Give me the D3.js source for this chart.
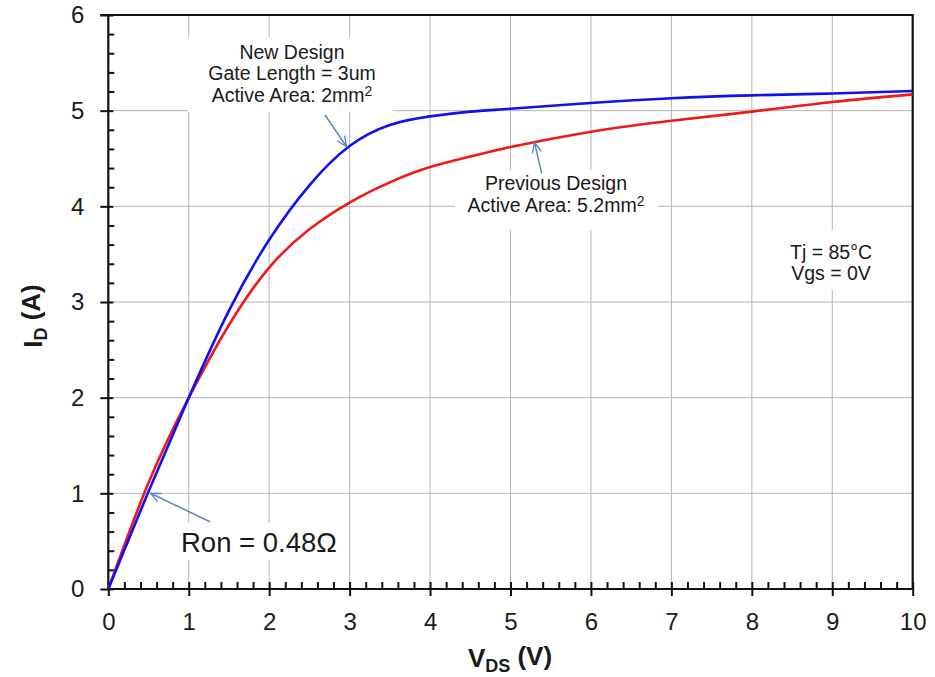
<!DOCTYPE html>
<html>
<head>
<meta charset="utf-8">
<script src="https://cdn.jsdelivr.net/npm/d3@7"></script>
<style>
  html, body { margin: 0; padding: 0; background: #fff; }
  svg { display: block; font-family: "Liberation Sans", Arial, sans-serif; }
</style>
</head>
<body>
<svg id="chart" width="935" height="677"></svg>
<script>
// ---- data ----
const vds = [0, 0.5, 1, 1.5, 2, 2.5, 3, 3.5, 4, 4.5, 5, 6, 7, 8, 9, 10];
const newDesign = [0, 1.02, 2.0, 2.91, 3.65, 4.22, 4.63, 4.85, 4.94, 4.99, 5.02, 5.08, 5.13, 5.16, 5.18, 5.205];
const prevDesign = [0, 1.11, 2.0, 2.76, 3.36, 3.76, 4.04, 4.25, 4.41, 4.52, 4.62, 4.78, 4.895, 4.99, 5.09, 5.17];
const xTicks = [0, 1, 2, 3, 4, 5, 6, 7, 8, 9, 10];
const yTicks = [0, 1, 2, 3, 4, 5, 6];
const xMinor = d3.range(0, 50).map(i => i * 0.2).filter(v => Math.abs(v - Math.round(v)) > 1e-6);
const yMinor = d3.range(0, 30).map(i => i * 0.2).filter(v => Math.abs(v - Math.round(v)) > 1e-6);

const svg = d3.select("#chart");
const x = d3.scaleLinear().domain([0, 10]).range([108.3, 912.7]);
const y = d3.scaleLinear().domain([0, 6]).range([589, 15]);

// grid
const grid = svg.append("g").attr("stroke", "#b4b4b4").attr("stroke-width", 1);
grid.selectAll(".gx").data(xTicks.slice(1, -1)).join("line")
  .attr("x1", d => x(d)).attr("x2", d => x(d)).attr("y1", y(0)).attr("y2", y(6));
grid.selectAll(".gy").data(yTicks.slice(1, -1)).join("line")
  .attr("x1", x(0)).attr("x2", x(10)).attr("y1", d => y(d)).attr("y2", d => y(d));

// white label boxes (hide grid)
const boxes = [
  [188, 37, 205, 75],
  [455, 170, 203, 60],
  [785, 230, 92, 60],
  [176, 523, 172, 37]
];
svg.append("g").selectAll("rect").data(boxes).join("rect")
  .attr("x", d => d[0]).attr("y", d => d[1]).attr("width", d => d[2]).attr("height", d => d[3])
  .attr("fill", "#fff");

// axes
const axisColor = "#111";
const xAxis = svg.append("g").attr("transform", `translate(0,${y(0)})`)
  .call(d3.axisBottom(x).tickValues(xTicks).tickSize(7).tickPadding(17).tickFormat(d3.format("d")));
xAxis.selectAll(".tick line").attr("y1", -7);
const xMin = svg.append("g").attr("transform", `translate(0,${y(0)})`)
  .call(d3.axisTop(x).tickValues(xMinor).tickSize(7).tickFormat(""));
xMin.select(".domain").remove();

const yAxis = svg.append("g").attr("transform", `translate(${x(0)},0)`)
  .call(d3.axisLeft(y).tickValues(yTicks).tickSize(8).tickPadding(16).tickFormat(d3.format("d")));
yAxis.selectAll(".tick line").attr("x1", 5);
const yMin = svg.append("g").attr("transform", `translate(${x(0)},0)`)
  .call(d3.axisRight(y).tickValues(yMinor).tickSize(6).tickFormat(""));
yMin.select(".domain").remove();

[xAxis, xMin, yAxis, yMin].forEach(g => {
  g.selectAll("line").attr("stroke", axisColor).attr("stroke-width", 2);
  g.selectAll(".domain").attr("stroke", axisColor).attr("stroke-width", 2.2);
  g.selectAll("text").attr("font-size", 24).attr("fill", "#1a1a1a")
    .attr("font-family", "'Liberation Sans', Arial, sans-serif");
});
xAxis.selectAll(".domain").attr("d", `M${x(0)},0H${x(10)}`);
yAxis.selectAll(".domain").attr("d", `M0,${y(0)}V${y(6)}`);

// frame top and right
svg.append("line").attr("x1", x(0) - 8).attr("x2", x(10) + 1).attr("y1", y(6)).attr("y2", y(6))
  .attr("stroke", axisColor).attr("stroke-width", 2.2);
svg.append("line").attr("x1", x(10)).attr("x2", x(10)).attr("y1", y(6)).attr("y2", y(0))
  .attr("stroke", axisColor).attr("stroke-width", 2.2);

// curves
const line = d3.line().x(d => x(d[0])).y(d => y(d[1])).curve(d3.curveNatural);
svg.append("path").datum(vds.map((v, i) => [v, prevDesign[i]]))
  .attr("d", line).attr("fill", "none").attr("stroke", "#f01818").attr("stroke-width", 2.6);
svg.append("path").datum(vds.map((v, i) => [v, newDesign[i]]))
  .attr("d", line).attr("fill", "none").attr("stroke", "#1010f0").attr("stroke-width", 2.6);

// arrow marker
svg.append("defs").append("marker")
  .attr("id", "arr").attr("viewBox", "0 0 12 12").attr("refX", 11).attr("refY", 6)
  .attr("markerWidth", 12).attr("markerHeight", 12).attr("markerUnits", "userSpaceOnUse")
  .attr("orient", "auto")
  .append("path").attr("d", "M1,1.5 L11,6 L1,10.5").attr("fill", "none")
  .attr("stroke", "#5f88c2").attr("stroke-width", 1.4);

const arrows = [
  [325, 115, 346.5, 146.5],
  [541.7, 173.3, 534.5, 142.5],
  [210, 521.7, 150.5, 493.3]
];
svg.append("g").selectAll("line").data(arrows).join("line")
  .attr("x1", d => d[0]).attr("y1", d => d[1]).attr("x2", d => d[2]).attr("y2", d => d[3])
  .attr("stroke", "#5f88c2").attr("stroke-width", 1.5).attr("marker-end", "url(#arr)");

// annotations
const txt = svg.append("g").attr("fill", "#1a1a1a").attr("font-size", 19.5).attr("text-anchor", "middle");
function label(cx, cy, lines) {
  lines.forEach((ln, i) => {
    const t = txt.append("text").attr("x", cx).attr("y", cy + i * 21.7).attr("dy", "0.35em");
    if (Array.isArray(ln)) {
      t.append("tspan").text(ln[0]);
      t.append("tspan").attr("dy", "-0.4em").attr("font-size", 14).text(ln[1]);
    } else t.text(ln);
  });
}
label(292, 51.7, ["New Design", "Gate Length = 3um", ["Active Area: 2mm", "2"]]);
label(556, 183.3, ["Previous Design", ["Active Area: 5.2mm", "2"]]);
label(831, 251.7, ["Tj = 85°C", "Vgs = 0V"]);

svg.append("text").attr("x", 181).attr("y", 552.3).attr("font-size", 27.5).attr("fill", "#1a1a1a")
  .text("Ron = 0.48Ω");

// axis titles
const xt = svg.append("text").attr("x", 510).attr("y", 667).attr("text-anchor", "middle")
  .attr("font-size", 26).attr("font-weight", "bold").attr("fill", "#1a1a1a");
xt.append("tspan").text("V");
xt.append("tspan").attr("font-size", 18).attr("dy", "0.3em").text("DS");
xt.append("tspan").attr("dy", "-0.3em").text(" (V)");

const yt = svg.append("text").attr("transform", "translate(42,316) rotate(-90)").attr("text-anchor", "middle")
  .attr("font-size", 26).attr("font-weight", "bold").attr("fill", "#1a1a1a");
yt.append("tspan").text("I");
yt.append("tspan").attr("font-size", 18).attr("dy", "0.3em").text("D");
yt.append("tspan").attr("dy", "-0.3em").text(" (A)");
</script>
</body>
</html>
